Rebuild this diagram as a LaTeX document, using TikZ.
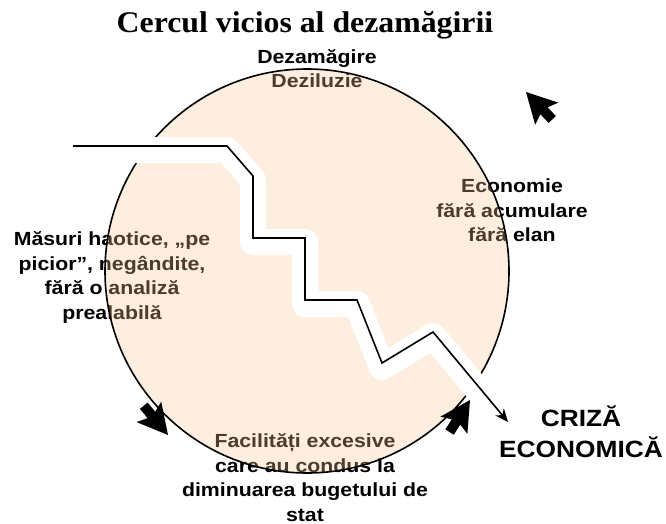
\documentclass[tikz,border=0pt]{standalone}
\usepackage{fontspec}
\setmainfont{Liberation Sans}[FakeStretch=1.12]
\newfontfamily\titlefont{Liberation Serif}[FakeStretch=1.06]
\usetikzlibrary{arrows.meta,calc}

\definecolor{peach}{RGB}{250,200,150}

\tikzset{
    bigtip/.pic={
        \fill (0,0) -- (-30,16) -- (-26,5) -- (-38,5) -- (-38,-5) -- (-26,-5) -- (-30,-16) -- cycle;
    }
}

\begin{document}
\begin{tikzpicture}[
    x=1pt, y=-1pt,
    label/.style={
        inner sep=0,
        align=center,
        font=\bfseries\fontsize{19}{24.5}\selectfont
    },
    band/.style={
        white,
        line width=26pt,
        line join=round
    },
    zig/.style={
        black,
        line width=1.6pt,
        -{Stealth[length=13pt,width=11pt,inset=4pt]}
    }
]

\useasboundingbox (0,0) rectangle (666,524);

\node[inner sep=0, anchor=base, font=\titlefont\bfseries\fontsize{30}{36}\selectfont] (title) at (305,33) {Cercul vicios al dezamăgirii};

\node[label] (dez) at (317,68.5) {Dezamăgire\\Deziluzie};
\node[label] (masuri) at (112,277.5) {Măsuri haotice, „pe\\picior”, negândite,\\fără o analiză\\prealabilă};
\node[label] (econ) at (512,210.5) {Economie\\fără acumulare\\fără elan};
\node[label] (facil) at (305,477.5) {Facilități excesive\\care au condus la\\diminuarea bugetului de\\stat};
\node[label, font=\bfseries\fontsize{23.5}{31}\selectfont] (criza) at (581,431.5) {CRIZĂ\\ECONOMICĂ};

% cercul
\coordinate (c) at (307,271);
\fill[peach, opacity=0.3] (c) circle [radius=202];
\draw[line width=1.6pt] (c) circle [radius=202];

% drumul in trepte
\coordinate (z0) at (73,146);
\coordinate (z1) at (227,146);
\coordinate (z2) at (253,176);
\coordinate (z3) at (253,238);
\coordinate (z4) at (305,238);
\coordinate (z5) at (305,300);
\coordinate (z6) at (357,300);
\coordinate (z7) at (382,363);
\coordinate (z8) at (433,332);
\coordinate (z9) at (508,422);

\draw[band, transform canvas={yshift=-4pt}]
(z0) -- (z1) -- (z2) -- (z3) -- (z4) -- (z5) -- (z6) -- (z7) -- (z8) -- ($(z8)!0.72!(z9)$);

\draw[zig]
(z0) -- (z1) -- (z2) -- (z3) -- (z4) -- (z5) -- (z6) -- (z7) -- (z8) -- (z9);

% sagetile cercului
\pic[rotate=133.7] at (526,92) {bigtip};
\pic[rotate=-50.4] at (168,435) {bigtip};
\pic[rotate=57.5] at (470,400) {bigtip};

\end{tikzpicture}
\end{document}
